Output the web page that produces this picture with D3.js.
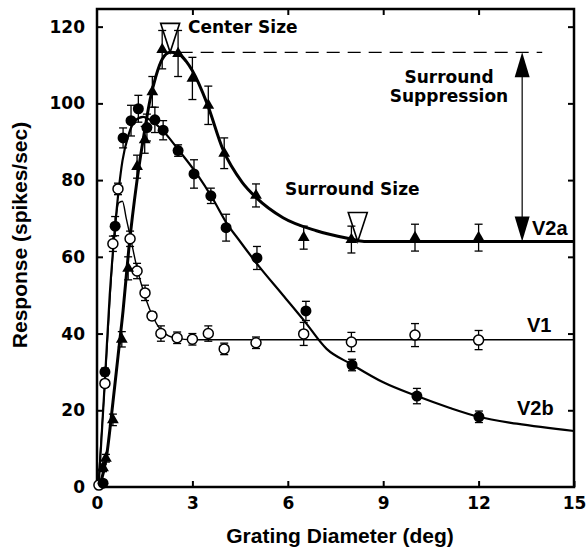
<!DOCTYPE html>
<html>
<head>
<meta charset="utf-8">
<script src="https://cdn.jsdelivr.net/npm/d3@7"></script>
<style>
  body { margin: 0; background: #fff; }
  text { font-family: "DejaVu Sans", sans-serif; font-weight: bold; fill: #000; }
  .big { font-family: "Liberation Sans", Arial, sans-serif; }
</style>
</head>
<body>
<div id="chart"></div>
<script>
// tick labels
const xTicks = [0, 3, 6, 9, 12, 15];
const yTicks = [0, 20, 40, 60, 80, 100, 120];

// V2a cell (filled triangles): diameter, response, error
const v2aX   = [0.19, 0.28, 0.5, 0.78, 0.98, 1.26, 1.5, 1.74, 2.05, 2.55, 3.0, 3.5, 4.0, 5.0, 6.5, 8.0, 10, 12];
const v2aY   = [5, 7.5, 17.5, 38.5, 57, 83.5, 90.5, 103, 114, 113, 106.5, 99.5, 87, 76, 65, 64.5, 65, 65];
const v2aErr = [1, 1, 1.5, 2, 3, 3, 3.5, 4, 5, 6, 5.5, 5, 4, 3, 3, 3.5, 3.5, 3.5];

// V2b cell (filled circles)
const v2bX   = [0.19, 0.25, 0.57, 0.82, 1.07, 1.3, 1.57, 1.82, 2.08, 2.55, 3.05, 3.58, 4.06, 5.03, 6.57, 8.02, 10.06, 12.01];
const v2bY   = [1, 30, 68, 91, 95.5, 98.6, 93.7, 95.7, 93, 87.7, 81.6, 75.9, 67.6, 59.7, 45.9, 31.8, 23.7, 18.3];
const v2bErr = [0.5, 1, 2.5, 2.6, 4, 3.5, 3.5, 3.3, 2.5, 1.5, 3.7, 2, 3.5, 3, 2.5, 1.5, 2, 1.5];

// V1 cell (open circles)
const v1X   = [0.06, 0.25, 0.5, 0.66, 1.04, 1.26, 1.51, 1.73, 2.01, 2.52, 3.0, 3.5, 4.0, 5.0, 6.5, 8.0, 10, 12];
const v1Y   = [0.5, 27, 63.4, 77.7, 64.7, 56.3, 50.6, 44.6, 40, 38.9, 38.5, 40, 36, 37.6, 39.9, 37.8, 39.6, 38.3];
const v1Err = [0.5, 1, 2, 1.5, 2, 2, 2, 1, 2, 1.5, 1.5, 2, 1.5, 1.5, 3, 2.5, 3, 2.5];

// fitted curves
const v2aFitX = [0.08, 0.3, 0.5, 0.66, 0.82, 1.0, 1.26, 1.5, 1.67, 1.85, 2.05, 2.3, 2.55, 2.8, 3.0, 3.46, 3.96, 4.56, 5.0, 5.85, 6.9, 7.96, 8.4, 15];
const v2aFitY = [0, 8, 22, 34, 46, 62, 80, 93, 101, 107, 111.5, 113.3, 113, 111, 108.5, 100, 88, 79.5, 75.5, 70.2, 66.8, 64.7, 64, 64];
const v2bFitX = [0.05, 0.25, 0.4, 0.57, 0.8, 1.0, 1.2, 1.45, 1.7, 2.0, 2.55, 3.14, 3.65, 4.06, 4.5, 5.0, 5.85, 6.5, 7.22, 8.0, 9.0, 10.06, 11.1, 12.0, 13.2, 15];
const v2bFitY = [0, 28, 50, 68, 85, 92, 95.5, 96.5, 95.5, 93.5, 88, 81.6, 75, 69, 64, 58.5, 50, 43.5, 36, 32, 27.3, 23.7, 20.6, 18.3, 16.5, 14.6];
const v1FitX = [0.03, 0.25, 0.4, 0.55, 0.68, 0.8, 0.92, 1.04, 1.26, 1.5, 1.75, 2.0, 2.25, 2.5, 3.0, 15];
const v1FitY = [0, 27, 48, 66, 74, 74.5, 70, 65.5, 57, 50, 44.5, 41, 39.4, 38.8, 38.4, 38.4];

// annotation values
const centerSize = 2.3;
const surroundSize = 8.2;
const peakResponse = 113.3;
const plateauResponse = 64;
const arrowX = 13.37;

// formatting parameters
const width = 587;
const height = 550;

const svg = d3.select("#chart")
    .append("svg")
    .attr("width", width)
    .attr("height", height);

const x = d3.scaleLinear().domain([0, 15]).range([97, 574]);
const y = d3.scaleLinear().domain([0, 124.6]).range([487, 9]);

// axes, ticks pointing inward
function styleAxis(g) {
    g.attr("font-family", null).attr("font-size", null);
    g.select(".domain").remove();
    g.selectAll(".tick line").attr("stroke", "#000").attr("stroke-width", 2);
    g.selectAll(".tick text").style("font-size", "17px");
}

svg.append("g")
    .attr("transform", `translate(0,${y(0)})`)
    .call(d3.axisBottom(x).tickValues(xTicks).tickSize(-6).tickPadding(10))
    .call(styleAxis);

svg.append("g")
    .attr("transform", `translate(${x(0)},0)`)
    .call(d3.axisLeft(y).tickValues(yTicks).tickSize(-6).tickPadding(12))
    .call(styleAxis);

svg.append("g")
    .attr("transform", `translate(0,${y.range()[1]})`)
    .call(d3.axisTop(x).tickValues(xTicks.slice(1, -1)).tickSize(-6).tickFormat(""))
    .call(styleAxis);

svg.append("g")
    .attr("transform", `translate(${x(15)},0)`)
    .call(d3.axisRight(y).tickValues(yTicks.slice(1)).tickSize(-6).tickFormat(""))
    .call(styleAxis);

// frame
svg.append("rect")
    .attr("x", x(0))
    .attr("y", y.range()[1])
    .attr("width", x(15) - x(0))
    .attr("height", y(0) - y.range()[1])
    .attr("fill", "none")
    .attr("stroke", "#000")
    .attr("stroke-width", 2.5);

// axis titles
svg.append("text")
    .attr("class", "big")
    .attr("x", 340)
    .attr("y", 543)
    .attr("text-anchor", "middle")
    .style("font-size", "21px")
    .text("Grating Diameter (deg)");

svg.append("text")
    .attr("class", "big")
    .attr("transform", "translate(27,235) rotate(-90)")
    .attr("text-anchor", "middle")
    .style("font-size", "21px")
    .text("Response (spikes/sec)");

// fitted curves
const line = d3.line()
    .x(d => x(d[0]))
    .y(d => y(d[1]))
    .curve(d3.curveMonotoneX);

function drawFit(xs, ys, w) {
    svg.append("path")
        .attr("d", line(d3.zip(xs, ys)))
        .attr("fill", "none")
        .attr("stroke", "#000")
        .attr("stroke-width", w);
}
drawFit(v1FitX, v1FitY, 1.4);
drawFit(v2bFitX, v2bFitY, 2.2);
drawFit(v2aFitX, v2aFitY, 3);

// error bars
function drawErrors(xs, ys, es) {
    const g = svg.append("g").attr("stroke", "#000").attr("stroke-width", 1.3);
    const data = d3.zip(xs, ys, es);
    g.selectAll(".bar").data(data).enter().append("line")
        .attr("x1", d => x(d[0])).attr("x2", d => x(d[0]))
        .attr("y1", d => y(d[1] - d[2])).attr("y2", d => y(d[1] + d[2]));
    g.selectAll(".capTop").data(data).enter().append("line")
        .attr("x1", d => x(d[0]) - 4).attr("x2", d => x(d[0]) + 4)
        .attr("y1", d => y(d[1] + d[2])).attr("y2", d => y(d[1] + d[2]));
    g.selectAll(".capBot").data(data).enter().append("line")
        .attr("x1", d => x(d[0]) - 4).attr("x2", d => x(d[0]) + 4)
        .attr("y1", d => y(d[1] - d[2])).attr("y2", d => y(d[1] - d[2]));
}
drawErrors(v1X, v1Y, v1Err);
drawErrors(v2bX, v2bY, v2bErr);
drawErrors(v2aX, v2aY, v2aErr);

// markers
svg.append("g").selectAll("circle")
    .data(d3.zip(v1X, v1Y))
    .enter().append("circle")
    .attr("cx", d => x(d[0]))
    .attr("cy", d => y(d[1]))
    .attr("r", 5)
    .attr("fill", "#fff")
    .attr("stroke", "#000")
    .attr("stroke-width", 1.5);

svg.append("g").selectAll("circle")
    .data(d3.zip(v2bX, v2bY))
    .enter().append("circle")
    .attr("cx", d => x(d[0]))
    .attr("cy", d => y(d[1]))
    .attr("r", 5.5)
    .attr("fill", "#000");

svg.append("g").selectAll("path")
    .data(d3.zip(v2aX, v2aY))
    .enter().append("path")
    .attr("d", d3.symbol(d3.symbolTriangle, 60))
    .attr("transform", d => `translate(${x(d[0])},${y(d[1])})`)
    .attr("fill", "#000");

// open triangles marking center and surround size
function sizeMarker(xv, yv) {
    const cx = x(xv), cy = y(yv);
    svg.append("path")
        .attr("d", `M${cx - 9.5},${cy - 29}L${cx + 9.5},${cy - 29}L${cx},${cy}Z`)
        .attr("fill", "none")
        .attr("stroke", "#000")
        .attr("stroke-width", 1.6);
}
sizeMarker(centerSize, peakResponse);
sizeMarker(surroundSize, plateauResponse);

// dashed line at the peak
svg.append("line")
    .attr("x1", x(2.6)).attr("x2", x(14))
    .attr("y1", y(peakResponse)).attr("y2", y(peakResponse))
    .attr("stroke", "#000")
    .attr("stroke-width", 1.2)
    .attr("stroke-dasharray", "13,8");

// double arrow for surround suppression
const ax = x(arrowX), aTop = y(peakResponse), aBot = y(plateauResponse);
svg.append("line")
    .attr("x1", ax).attr("x2", ax)
    .attr("y1", aTop + 20).attr("y2", aBot - 20)
    .attr("stroke", "#000")
    .attr("stroke-width", 1.2);
svg.append("path")
    .attr("d", `M${ax},${aTop}L${ax - 7.5},${aTop + 25}L${ax + 7.5},${aTop + 25}Z`)
    .attr("fill", "#000");
svg.append("path")
    .attr("d", `M${ax},${aBot}L${ax - 7.5},${aBot - 25}L${ax + 7.5},${aBot - 25}Z`)
    .attr("fill", "#000");

// annotation text
function note(str, px, py, size, anchor, cls) {
    svg.append("text")
        .attr("class", cls || null)
        .attr("x", px)
        .attr("y", py)
        .attr("text-anchor", anchor || "start")
        .style("font-size", size + "px")
        .text(str);
}
note("Center Size", 188, 33, 17);
note("Surround", 449, 83, 17, "middle");
note("Suppression", 449, 102, 17, "middle");
note("Surround Size", 285, 195, 17);
note("V2a", 532, 235, 20, "start", "big");
note("V1", 527, 332, 20, "start", "big");
note("V2b", 517, 415, 20, "start", "big");
</script>
</body>
</html>
